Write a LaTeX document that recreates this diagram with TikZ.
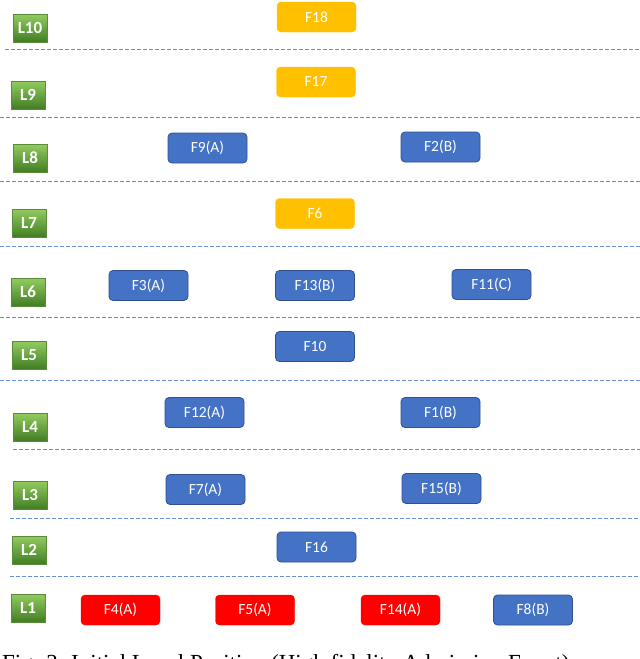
\documentclass[tikz,border=0pt]{standalone}
\usepackage{fontspec}
\newfontfamily\carlito{Carlito}
\newfontfamily\capfont{Liberation Serif}
\definecolor{fblue}{RGB}{68,114,196}
\definecolor{fblueb}{RGB}{47,82,143}
\definecolor{fyel}{RGB}{255,192,0}
\definecolor{fred}{RGB}{255,0,0}
\definecolor{lvtop}{RGB}{146,204,96}
\definecolor{lvbot}{RGB}{66,125,36}
\definecolor{lvborder}{RGB}{90,140,60}
\definecolor{dashc}{RGB}{100,140,215}
\tikzset{
  fbox/.style={rounded corners=4pt, minimum width=79pt, minimum height=30pt, inner sep=0pt,
    text=white, font=\carlito\fontsize{15.5}{17}\selectfont},
  bluebox/.style={fbox, fill=fblue, draw=fblueb, line width=0.8pt},
  yelbox/.style={fbox, fill=fyel, draw=fyel},
  redbox/.style={fbox, fill=fred, draw=fred},
  lvl/.style={minimum width=34pt, minimum height=28pt, inner sep=0pt, top color=lvtop, bottom color=lvbot,
    draw=lvborder, line width=0.6pt, text=white, font=\carlito\bfseries\fontsize{17}{19}\selectfont},
  sep/.style={dashc, dashed, dash pattern=on 4pt off 2pt, line width=0.9pt}
}
\begin{document}
\begin{tikzpicture}[x=1pt,y=-1pt]
\useasboundingbox (0,0) rectangle (640,659);
\fill[white] (0,0) rectangle (640,659);
% separators
\foreach \yy/\xs in {49/5,117/0,181/0,246/0,317/0,380/0,449/13,518/10,576/10}
  \draw[sep] (\xs,\yy) -- (640,\yy);
% level labels
\node[lvl] (L10) at (30,28) {L10};
\node[lvl] (L9) at (28,95) {L9};
\node[lvl] (L8) at (30,158) {L8};
\node[lvl] (L7) at (29,223) {L7};
\node[lvl] (L6) at (28,292) {L6};
\node[lvl] (L5) at (29,355) {L5};
\node[lvl] (L4) at (30,427) {L4};
\node[lvl] (L3) at (30,495) {L3};
\node[lvl] (L2) at (29,550) {L2};
\node[lvl] (L1) at (28,608) {L1};
% boxes
\node[yelbox] (F18) at (316.5,17) {F18};
\node[yelbox] (F17) at (316,82) {F17};
\node[bluebox] (F9A) at (207.5,148) {F9(A)};
\node[bluebox] (F2B) at (440.5,147) {F2(B)};
\node[yelbox] (F6) at (315,213.5) {F6};
\node[bluebox] (F3A) at (148.5,285.5) {F3(A)};
\node[bluebox] (F13B) at (315,285.5) {F13(B)};
\node[bluebox] (F11C) at (491.5,284.5) {F11(C)};
\node[bluebox] (F10) at (315,346.5) {F10};
\node[bluebox] (F12A) at (204.5,412.5) {F12(A)};
\node[bluebox] (F1B) at (440.5,412.5) {F1(B)};
\node[bluebox] (F7A) at (205.5,489.5) {F7(A)};
\node[bluebox] (F15B) at (441.5,488.5) {F15(B)};
\node[bluebox] (F16) at (316.5,547) {F16};
\node[redbox] (F4A) at (120.5,610) {F4(A)};
\node[redbox] (F5A) at (255,610) {F5(A)};
\node[redbox] (F14A) at (400.5,610) {F14(A)};
\node[bluebox] (F8B) at (533,610) {F8(B)};
% caption (cut off by the page edge, as in the reference)
\node[anchor=base west, inner sep=0pt, font=\capfont\fontsize{23}{25}\selectfont] (cap) at (2,670)
  {Fig. 3. Initial Level Position (High fidelity Admission Event)};
\end{tikzpicture}
\end{document}
